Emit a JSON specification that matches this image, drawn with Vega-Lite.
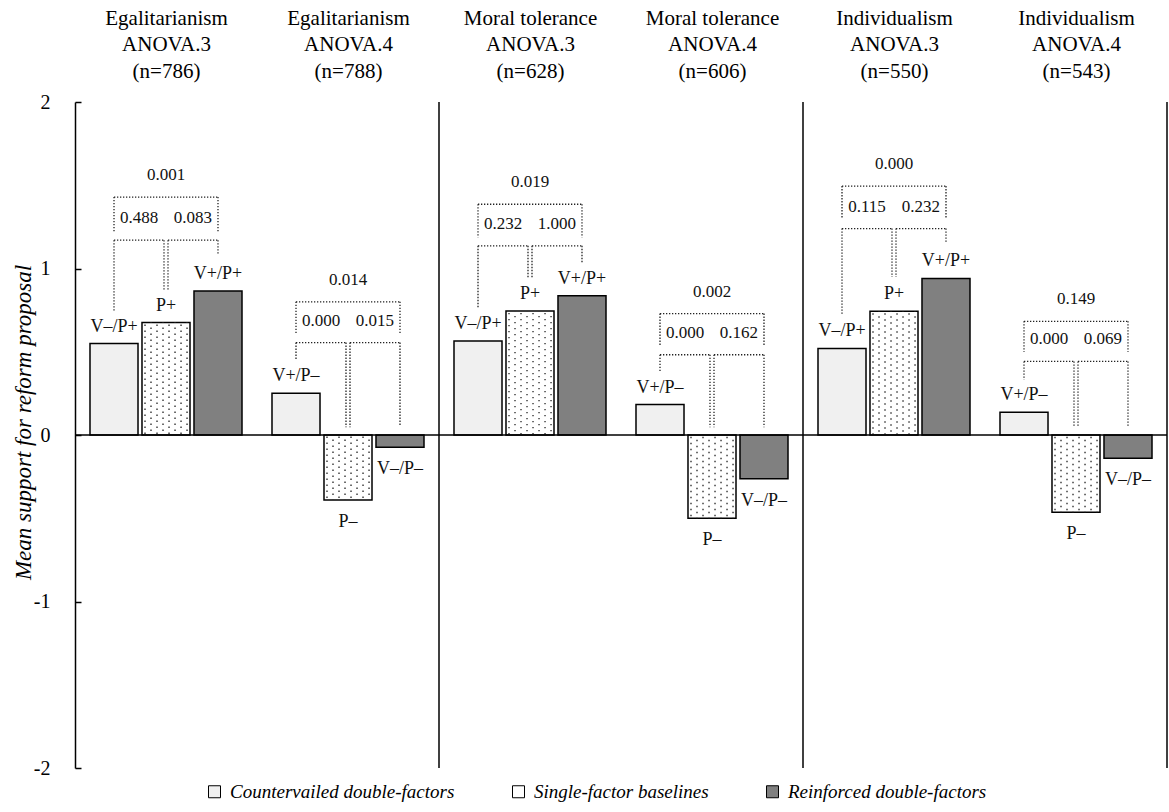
{
  "$schema": "https://vega.github.io/schema/vega-lite/v6.json",
  "width": 1092,
  "height": 666,
  "autosize": {"type": "none"},
  "padding": {"left": 75, "top": 102, "right": 2, "bottom": 44},
  "background": "white",
  "config": {"view": {"stroke": null}, "font": "Liberation Serif"},
  "datasets": {
    "headers": [
      {"h": "Egalitarianism|ANOVA.3|(n=786)"},
      {"h": "Egalitarianism|ANOVA.4|(n=788)"},
      {"h": "Moral tolerance|ANOVA.3|(n=628)"},
      {"h": "Moral tolerance|ANOVA.4|(n=606)"},
      {"h": "Individualism|ANOVA.3|(n=550)"},
      {"h": "Individualism|ANOVA.4|(n=543)"}
    ],
    "bars": [
      {"g": 1, "k": 1, "cat": "Countervailed double-factors", "value": 0.549, "label": "V–/P+"},
      {"g": 1, "k": 2, "cat": "Single-factor baselines", "value": 0.675, "label": "P+"},
      {"g": 1, "k": 3, "cat": "Reinforced double-factors", "value": 0.865, "label": "V+/P+"},
      {"g": 2, "k": 1, "cat": "Countervailed double-factors", "value": 0.251, "label": "V+/P–"},
      {"g": 2, "k": 2, "cat": "Single-factor baselines", "value": -0.39, "label": "P–"},
      {"g": 2, "k": 3, "cat": "Reinforced double-factors", "value": -0.073, "label": "V–/P–"},
      {"g": 3, "k": 1, "cat": "Countervailed double-factors", "value": 0.564, "label": "V–/P+"},
      {"g": 3, "k": 2, "cat": "Single-factor baselines", "value": 0.745, "label": "P+"},
      {"g": 3, "k": 3, "cat": "Reinforced double-factors", "value": 0.837, "label": "V+/P+"},
      {"g": 4, "k": 1, "cat": "Countervailed double-factors", "value": 0.183, "label": "V+/P–"},
      {"g": 4, "k": 2, "cat": "Single-factor baselines", "value": -0.50, "label": "P–"},
      {"g": 4, "k": 3, "cat": "Reinforced double-factors", "value": -0.263, "label": "V–/P–"},
      {"g": 5, "k": 1, "cat": "Countervailed double-factors", "value": 0.52, "label": "V–/P+"},
      {"g": 5, "k": 2, "cat": "Single-factor baselines", "value": 0.743, "label": "P+"},
      {"g": 5, "k": 3, "cat": "Reinforced double-factors", "value": 0.94, "label": "V+/P+"},
      {"g": 6, "k": 1, "cat": "Countervailed double-factors", "value": 0.137, "label": "V+/P–"},
      {"g": 6, "k": 2, "cat": "Single-factor baselines", "value": -0.464, "label": "P–"},
      {"g": 6, "k": 3, "cat": "Reinforced double-factors", "value": -0.14, "label": "V–/P–"}
    ],
    "brackets": [
      {"g": 1, "from": 1, "to": 3, "level": 1.429, "endFrom": 1.224, "endTo": 1.224, "p": "0.001"},
      {"g": 1, "from": 1, "to": 2, "level": 1.17, "endFrom": 0.737, "endTo": 0.869, "p": "0.488"},
      {"g": 1, "from": 2, "to": 3, "level": 1.17, "endFrom": 0.869, "endTo": 1.086, "p": "0.083"},
      {"g": 2, "from": 1, "to": 3, "level": 0.80, "endFrom": 0.61, "endTo": 0.61, "p": "0.014"},
      {"g": 2, "from": 1, "to": 2, "level": 0.555, "endFrom": 0.448, "endTo": 0.047, "p": "0.000"},
      {"g": 2, "from": 2, "to": 3, "level": 0.555, "endFrom": 0.047, "endTo": 0.057, "p": "0.015"},
      {"g": 3, "from": 1, "to": 3, "level": 1.386, "endFrom": 1.186, "endTo": 1.186, "p": "0.019"},
      {"g": 3, "from": 1, "to": 2, "level": 1.136, "endFrom": 0.759, "endTo": 0.946, "p": "0.232"},
      {"g": 3, "from": 2, "to": 3, "level": 1.136, "endFrom": 0.946, "endTo": 1.036, "p": "1.000"},
      {"g": 4, "from": 1, "to": 3, "level": 0.729, "endFrom": 0.538, "endTo": 0.538, "p": "0.002"},
      {"g": 4, "from": 1, "to": 2, "level": 0.482, "endFrom": 0.384, "endTo": 0.047, "p": "0.000"},
      {"g": 4, "from": 2, "to": 3, "level": 0.482, "endFrom": 0.047, "endTo": 0.047, "p": "0.162"},
      {"g": 5, "from": 1, "to": 3, "level": 1.495, "endFrom": 1.30, "endTo": 1.30, "p": "0.000"},
      {"g": 5, "from": 1, "to": 2, "level": 1.24, "endFrom": 0.719, "endTo": 0.949, "p": "0.115"},
      {"g": 5, "from": 2, "to": 3, "level": 1.24, "endFrom": 0.949, "endTo": 1.16, "p": "0.232"},
      {"g": 6, "from": 1, "to": 3, "level": 0.683, "endFrom": 0.498, "endTo": 0.498, "p": "0.149"},
      {"g": 6, "from": 1, "to": 2, "level": 0.442, "endFrom": 0.332, "endTo": 0.051, "p": "0.000"},
      {"g": 6, "from": 2, "to": 3, "level": 0.442, "endFrom": 0.051, "endTo": 0.051, "p": "0.069"}
    ]
  },
  "layer": [
    {
      "data": {"name": "headers"},
      "mark": {"type": "point", "opacity": 0},
      "encoding": {
        "x": {
          "field": "h", "type": "nominal", "sort": null,
          "scale": {"type": "point", "padding": 0.5},
          "axis": {
            "orient": "top", "title": null, "domain": false, "ticks": false,
            "labelAngle": 0, "labelExpr": "split(datum.label, '|')",
            "labelFont": "Liberation Serif", "labelFontSize": 21, "labelLineHeight": 26.5,
            "labelColor": "black", "labelPadding": 74, "labelLimit": 300
          }
        }
      }
    },
    {
      "layer": [
        {
          "data": {"name": "bars"},
          "transform": [
            {"calculate": "datum.g - 0.5 + (datum.k - 2) * 0.2857", "as": "xc"},
            {"calculate": "datum.xc - 0.1319", "as": "xl"},
            {"calculate": "datum.xc + 0.1319", "as": "xr"}
          ],
          "layer": [
            {
              "mark": {"type": "bar", "stroke": "black", "strokeWidth": 1.5},
              "encoding": {
                "x": {"field": "xl", "type": "quantitative", "scale": {"domain": [0, 6], "nice": false, "zero": false}, "axis": null},
                "x2": {"field": "xr"},
                "y": {
                  "field": "value", "type": "quantitative",
                  "scale": {"domain": [-2, 2], "nice": false, "zero": false},
                  "axis": {
                    "title": "Mean support for reform proposal",
                    "titleFont": "Liberation Serif", "titleFontStyle": "italic", "titleFontWeight": "normal",
                    "titleFontSize": 23, "titleColor": "black", "titleAngle": -90,
                    "titleBaseline": "alphabetic", "titleX": -45, "titleY": 320, "titleAlign": "center",
                    "values": [-2, -1, 0, 1, 2], "labelExpr": "'' + datum.value",
                    "labelFont": "Liberation Serif", "labelFontSize": 20, "labelColor": "black",
                    "labelPadding": 31, "grid": false,
                    "domainColor": "black", "domainWidth": 1.5,
                    "tickColor": "black", "tickWidth": 1.5, "tickSize": -6
                  }
                },
                "y2": {"datum": 0},
                "fill": {
                  "field": "cat", "type": "nominal",
                  "scale": {
                    "domain": ["Countervailed double-factors", "Single-factor baselines", "Reinforced double-factors"],
                    "range": ["#f0f0f0", "#ffffff", "#808080"]
                  },
                  "legend": {
                    "orient": "none", "legendX": 130, "legendY": 680, "direction": "horizontal",
                    "title": null, "symbolType": "square", "symbolSize": 144,
                    "symbolStrokeColor": "black", "symbolStrokeWidth": 1,
                    "labelFont": "Liberation Serif", "labelFontStyle": "italic", "labelFontSize": 19,
                    "labelColor": "black", "labelOffset": 6, "columnPadding": 54, "labelLimit": 400
                  }
                }
              }
            },
            {
              "transform": [
                {"filter": "datum.k == 2"},
                {"calculate": "[0, 1, 2, 3, 4, 5, 6, 7]", "as": "cols"},
                {"flatten": ["cols"], "as": ["c"]},
                {"calculate": "datum.xl + (datum.c + 0.5) * 0.033", "as": "xd"},
                {"filter": "datum.c % 2 == 0"}
              ],
              "mark": {"type": "rule", "stroke": "#333", "strokeWidth": 1.4, "strokeDash": [1.4, 4.6], "strokeDashOffset": -2},
              "encoding": {
                "x": {"field": "xd", "type": "quantitative"},
                "y": {"field": "value", "type": "quantitative"},
                "y2": {"datum": 0}
              }
            },
            {
              "transform": [
                {"filter": "datum.k == 2"},
                {"calculate": "[0, 1, 2, 3, 4, 5, 6, 7]", "as": "cols"},
                {"flatten": ["cols"], "as": ["c"]},
                {"calculate": "datum.xl + (datum.c + 0.5) * 0.033", "as": "xd"},
                {"filter": "datum.c % 2 == 1"}
              ],
              "mark": {"type": "rule", "stroke": "#333", "strokeWidth": 1.4, "strokeDash": [1.4, 4.6], "strokeDashOffset": -5},
              "encoding": {
                "x": {"field": "xd", "type": "quantitative"},
                "y": {"field": "value", "type": "quantitative"},
                "y2": {"datum": 0}
              }
            },
            {
              "transform": [{"filter": "datum.value > 0"}],
              "mark": {"type": "text", "baseline": "middle", "dy": -17, "fontSize": 18, "font": "Liberation Serif", "color": "#111"},
              "encoding": {
                "x": {"field": "xc", "type": "quantitative"},
                "y": {"field": "value", "type": "quantitative"},
                "text": {"field": "label"}
              }
            },
            {
              "transform": [{"filter": "datum.value < 0"}],
              "mark": {"type": "text", "baseline": "middle", "dy": 22, "fontSize": 18, "font": "Liberation Serif", "color": "#111"},
              "encoding": {
                "x": {"field": "xc", "type": "quantitative"},
                "y": {"field": "value", "type": "quantitative"},
                "text": {"field": "label"}
              }
            },
            {
              "transform": [{"filter": "datum.k == 3 && datum.g % 2 == 0"}],
              "mark": {"type": "rule", "stroke": "black", "strokeWidth": 1.5},
              "encoding": {
                "x": {"field": "g", "type": "quantitative"},
                "y": {"datum": -2},
                "y2": {"datum": 2}
              }
            }
          ]
        },
        {
          "data": {"values": [{}]},
          "mark": {"type": "rule", "stroke": "black", "strokeWidth": 1.6},
          "encoding": {"y": {"datum": 0}}
        },
        {
          "data": {"name": "brackets"},
          "transform": [
            {"calculate": "datum.g - 0.5 + (datum.from - 2) * 0.2857 + (datum.from == 2 ? 0.011 : 0)", "as": "xa"},
            {"calculate": "datum.g - 0.5 + (datum.to - 2) * 0.2857 - (datum.to == 2 ? 0.011 : 0)", "as": "xb"},
            {"calculate": "(datum.xa + datum.xb) / 2", "as": "xm"}
          ],
          "layer": [
            {
              "mark": {"type": "rule", "stroke": "#222", "strokeWidth": 1.3, "strokeDash": [1.3, 1.7]},
              "encoding": {
                "x": {"field": "xa", "type": "quantitative"},
                "x2": {"field": "xb"},
                "y": {"field": "level", "type": "quantitative"}
              }
            },
            {
              "mark": {"type": "rule", "stroke": "#222", "strokeWidth": 1.3, "strokeDash": [1.3, 1.7]},
              "encoding": {
                "x": {"field": "xa", "type": "quantitative"},
                "y": {"field": "level", "type": "quantitative"},
                "y2": {"field": "endFrom"}
              }
            },
            {
              "mark": {"type": "rule", "stroke": "#222", "strokeWidth": 1.3, "strokeDash": [1.3, 1.7]},
              "encoding": {
                "x": {"field": "xb", "type": "quantitative"},
                "y": {"field": "level", "type": "quantitative"},
                "y2": {"field": "endTo"}
              }
            },
            {
              "mark": {"type": "text", "baseline": "middle", "dy": -22, "fontSize": 17, "font": "Liberation Serif", "color": "#111"},
              "encoding": {
                "x": {"field": "xm", "type": "quantitative"},
                "y": {"field": "level", "type": "quantitative"},
                "text": {"field": "p"}
              }
            }
          ]
        }
      ]
    }
  ],
  "resolve": {"scale": {"x": "independent"}, "axis": {"x": "independent"}}
}
